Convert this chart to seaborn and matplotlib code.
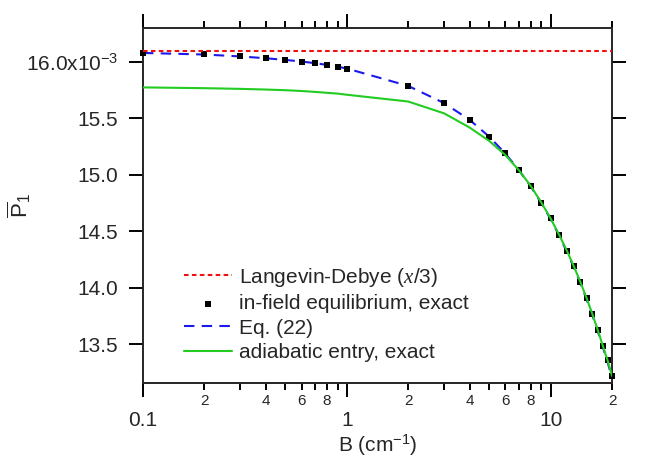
import numpy as np
import pandas as pd
import matplotlib
matplotlib.use("Agg")
import matplotlib.pyplot as plt
from matplotlib.ticker import FixedLocator, FuncFormatter
import seaborn as sns

# values, P1 in units of 1e-3
B_ld = [0.1, 20]
P_ld = [16.10, 16.10]

B_exact = [0.1, 0.2, 0.3, 0.4, 0.5, 0.6, 0.7, 0.8, 0.9,
           1, 2, 3, 4, 5, 6, 7, 8, 9,
           10, 11, 12, 13, 14, 15, 16, 17, 18, 19, 20]
P_exact = [16.080, 16.067, 16.050, 16.032, 16.020, 16.003, 15.990, 15.976, 15.956,
           15.940, 15.790, 15.637, 15.490, 15.340, 15.190, 15.044, 14.900, 14.755,
           14.616, 14.470, 14.330, 14.190, 14.050, 13.910, 13.770, 13.630, 13.490, 13.360, 13.220]

B_eq22 = B_exact
P_eq22 = [16.080, 16.066, 16.049, 16.033, 16.018, 16.004, 15.989, 15.974, 15.958,
          15.942, 15.788, 15.636, 15.488, 15.338, 15.188, 15.040, 14.895, 14.750,
          14.608, 14.462, 14.320, 14.180, 14.040, 13.900, 13.760, 13.620, 13.480, 13.345, 13.205]

B_adiab = B_exact
P_adiab = [15.775, 15.768, 15.762, 15.756, 15.750, 15.743, 15.735, 15.727, 15.720,
           15.710, 15.650, 15.545, 15.420, 15.300, 15.175, 15.040, 14.900, 14.755,
           14.614, 14.470, 14.330, 14.190, 14.050, 13.910, 13.770, 13.630, 13.490, 13.360, 13.220]

y_ticks = [13.5, 14.0, 14.5, 15.0, 15.5, 16.0]

sns.set_style("ticks")
plt.rcParams['font.family'] = ['Liberation Sans', 'DejaVu Sans']
plt.rcParams['mathtext.fontset'] = 'custom'
plt.rcParams['mathtext.rm'] = 'Liberation Sans'
plt.rcParams['mathtext.it'] = 'Liberation Serif:italic'
plt.rcParams['axes.linewidth'] = 1.4

fig = plt.figure(figsize=(6.47, 4.68), dpi=100)
ax = fig.add_axes([0.221, 0.182, 0.725, 0.758])

ld = pd.DataFrame({"B": B_ld, "P": P_ld})
ex = pd.DataFrame({"B": B_exact, "P": P_exact})
eq = pd.DataFrame({"B": B_eq22, "P": P_eq22})
ad = pd.DataFrame({"B": B_adiab, "P": P_adiab})

sns.lineplot(data=eq, x="B", y="P", ax=ax, color="#1a1aee", lw=1.5,
             errorbar=None, zorder=2)
eq_line = ax.lines[-1]
eq_line.set_dashes([5, 3.5])
sns.scatterplot(data=ex, x="B", y="P", ax=ax, marker="s", color="black",
                s=22, linewidth=0, zorder=3, clip_on=False)
pts = ax.collections[-1]
sns.lineplot(data=ad, x="B", y="P", ax=ax, color="#22cc22", lw=1.5,
             errorbar=None, zorder=4)
ad_line = ax.lines[-1]
sns.lineplot(data=ld, x="B", y="P", ax=ax, color="#ee1111", lw=1.5,
             errorbar=None, zorder=5)
ld_line = ax.lines[-1]
ld_line.set_dashes([2.2, 1.6])

ax.set_xscale("log")
ax.set_xlim(0.1, 20)
ax.set_ylim(13.16, 16.30)

# x ticks
ax.xaxis.set_major_locator(FixedLocator([0.1, 1, 10]))
ax.xaxis.set_minor_locator(FixedLocator(
    [m * d for d in (0.1, 1, 10) for m in range(2, 10) if m * d <= 20.001]))
ax.xaxis.set_major_formatter(FuncFormatter(lambda v, p: "%g" % v))

def minor_fmt(v, p):
    lead = int(round(v / 10 ** np.floor(np.log10(v) + 1e-9)))
    return str(lead) if lead in (2, 4, 6, 8) else ""

ax.xaxis.set_minor_formatter(FuncFormatter(minor_fmt))

ax.yaxis.set_major_locator(FixedLocator(y_ticks))
ax.yaxis.set_minor_locator(FixedLocator([]))
ax.set_yticklabels(["%.1f" % t for t in y_ticks[:-1]] + [r"16.0x10$^{-3}$"])

ax.tick_params(which="both", direction="out", top=True, right=True,
               labeltop=False, labelright=False, width=1.4, color="black")
ax.tick_params(axis="x", which="major", length=10, pad=10, labelsize=15)
ax.tick_params(axis="x", which="minor", length=5, pad=3, labelsize=11)
ax.tick_params(axis="y", which="major", length=10, pad=8, labelsize=15)

ax.set_xlabel(r"B (cm$^{-1}$)", fontsize=15, labelpad=2)
ax.set_ylabel(r"$\overline{\mathrm{P}}_1$", fontsize=16)
ax.yaxis.set_label_coords(-0.235, 0.5)

handles = [ld_line, pts, eq_line, ad_line]
labels = [r"Langevin-Debye ($\mathit{x}$/3)", "in-field equilibrium, exact",
          "Eq. (22)", "adiabatic entry, exact"]
ax.legend(handles, labels, loc="upper left", bbox_to_anchor=(0.066, 0.36),
          frameon=False, fontsize=15, borderpad=0, handlelength=2.3,
          handletextpad=0.3, labelspacing=0.27, scatterpoints=1)

fig.savefig("out.png", dpi=100)
